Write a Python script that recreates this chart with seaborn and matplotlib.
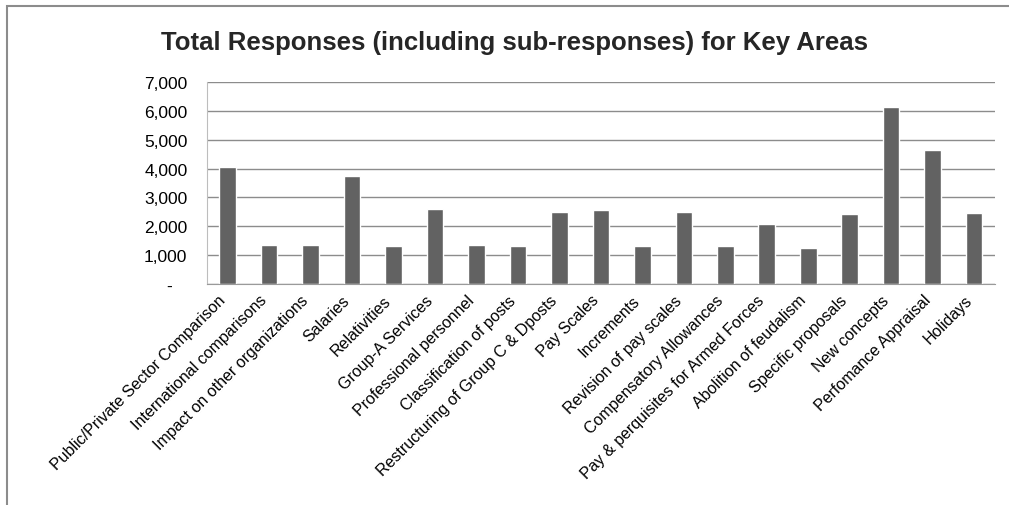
import matplotlib
matplotlib.use('Agg')
import matplotlib.pyplot as plt
import matplotlib.transforms as mtransforms
import seaborn as sns
import pandas as pd
from matplotlib.ticker import FuncFormatter
from matplotlib.patches import Rectangle

# Data
categories = [
    'Public/Private Sector Comparison', 'International comparisons',
    'Impact on other organizations', 'Salaries', 'Relativities',
    'Group-A Services', 'Professional personnel', 'Classification of posts',
    'Restructuring of Group C & Dposts', 'Pay Scales', 'Increments',
    'Revision of pay scales', 'Compensatory Allowances',
    'Pay & perquisites for Armed Forces', 'Abolition of feudalism',
    'Specific proposals', 'New concepts', 'Perfomance Appraisal', 'Holidays',
]
responses = [4050, 1350, 1350, 3750, 1320, 2600, 1350, 1320, 2500, 2570,
             1320, 2500, 1320, 2080, 1250, 2430, 6140, 4650, 2460]

df = pd.DataFrame({'area': categories, 'responses': responses})

sns.set_style('white')
plt.rcParams['font.family'] = ['Liberation Sans', 'DejaVu Sans']

fig = plt.figure(figsize=(10.09, 5.06), dpi=100)
ax = fig.add_axes([0.205, 0.437, 0.781, 0.399])

sns.barplot(data=df, x='area', y='responses', color='#626262',
            saturation=1, width=0.4, ax=ax)

ax.set_ylim(0, 7000)
ax.set_yticks(range(0, 7001, 1000))
ax.yaxis.set_major_formatter(FuncFormatter(lambda v, p: '-   ' if v == 0 else f'{int(v):,}'))
ax.grid(axis='y', color='#8c8c8c', linewidth=1)
ax.set_axisbelow(True)
ax.set_xlabel('')
ax.set_ylabel('')
ax.set_xlim(-0.5, len(categories) - 0.5)

for side in ['top', 'right']:
    ax.spines[side].set_visible(False)
ax.spines['bottom'].set_color('#9a9a9a')
ax.spines['left'].set_color('#bdbdbd')

ax.tick_params(axis='both', length=0, colors='black')
ax.tick_params(axis='y', pad=14, labelsize=12.5)
ax.tick_params(axis='x', pad=6, labelsize=11.5)
shift = mtransforms.ScaledTranslation(-10 / 100, 0, fig.dpi_scale_trans)
for lbl in ax.get_xticklabels():
    lbl.set_rotation(45)
    lbl.set_ha('right')
    lbl.set_rotation_mode('anchor')
    lbl.set_transform(lbl.get_transform() + shift)

fig.text(0.51, 0.915, 'Total Responses (including sub-responses) for Key Areas',
         ha='center', va='center', fontsize=18.5, fontweight='bold')

# outer chart border (runs off the right and bottom edge)
fig.patches.append(Rectangle((7 / 1009, -0.1), 1.2, 1 - 7 / 506 + 0.1,
                             transform=fig.transFigure, fill=False,
                             edgecolor='#8c8c8c', linewidth=1.5))

fig.savefig('out.png', dpi=100)
